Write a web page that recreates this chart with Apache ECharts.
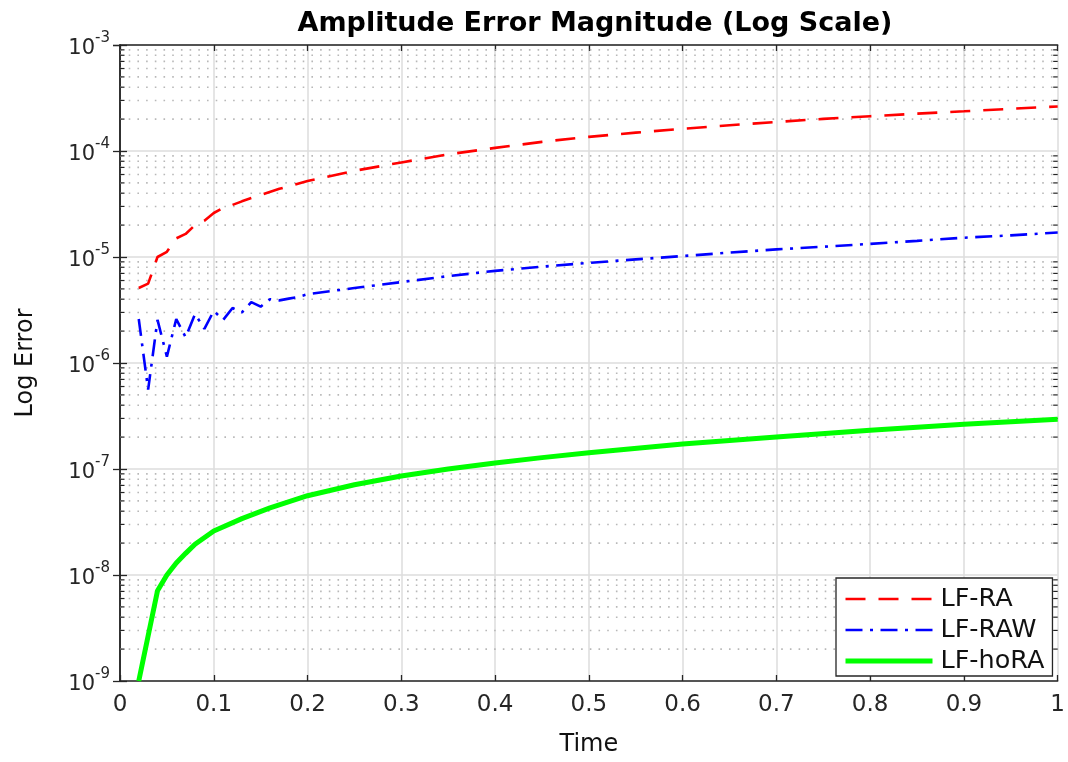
<!DOCTYPE html>
<html>
<head>
<meta charset="utf-8">
<script src="https://cdn.jsdelivr.net/npm/echarts@6/dist/echarts.min.js"></script>
<style>html,body{margin:0;padding:0;background:#fff;}#c{width:1068px;height:762px;}</style>
</head>
<body>
<div id="c"></div>
<script>
// ---- data ----
const seriesNames = ['LF-RA', 'LF-RAW', 'LF-hoRA'];
const xTicks = [0, 0.1, 0.2, 0.3, 0.4, 0.5, 0.6, 0.7, 0.8, 0.9, 1];
const yDecades = [1e-9, 1e-8, 1e-7, 1e-6, 1e-5, 1e-4, 1e-3];

const tRA = [0.02,0.03,0.04,0.05,0.06,0.07,0.08,0.09,0.10,0.11,0.12,0.13,0.14,0.15,0.17,0.20,0.25,0.30,0.35,0.40,0.45,0.50,0.55,0.60,0.65,0.70,0.75,0.80,0.85,0.90,0.95,1.00];
const errRA = [5.1e-6,5.6e-6,1.0e-5,1.12e-5,1.5e-5,1.65e-5,2.0e-5,2.2e-5,2.6e-5,2.9e-5,3.1e-5,3.35e-5,3.6e-5,3.85e-5,4.4e-5,5.2e-5,6.5e-5,7.8e-5,9.3e-5,1.07e-4,1.22e-4,1.36e-4,1.49e-4,1.62e-4,1.75e-4,1.88e-4,2.01e-4,2.13e-4,2.25e-4,2.37e-4,2.5e-4,2.63e-4];

const tRAW = [0.02,0.03,0.04,0.05,0.06,0.07,0.08,0.09,0.10,0.11,0.12,0.13,0.14,0.15,0.16,0.17,0.18,0.19,0.20,0.25,0.30,0.35,0.40,0.45,0.50,0.55,0.60,0.65,0.70,0.75,0.80,0.85,0.90,0.95,1.00];
const errRAW = [2.6e-6,5.6e-7,2.55e-6,1.15e-6,2.6e-6,1.75e-6,2.9e-6,2.1e-6,3.1e-6,2.55e-6,3.3e-6,3.0e-6,3.75e-6,3.4e-6,4.0e-6,3.9e-6,4.05e-6,4.2e-6,4.45e-6,5.1e-6,5.8e-6,6.6e-6,7.4e-6,8.1e-6,8.8e-6,9.5e-6,1.02e-5,1.1e-5,1.18e-5,1.25e-5,1.33e-5,1.42e-5,1.52e-5,1.6e-5,1.7e-5];

const tHoRA = [0.02,0.04,0.05,0.06,0.07,0.08,0.10,0.13,0.16,0.20,0.25,0.30,0.35,0.40,0.45,0.50,0.60,0.70,0.80,0.90,1.00];
const errHoRA = [1.0e-9,7.1e-9,1.0e-8,1.3e-8,1.6e-8,1.95e-8,2.6e-8,3.4e-8,4.3e-8,5.6e-8,7.1e-8,8.6e-8,1.0e-7,1.14e-7,1.28e-7,1.42e-7,1.72e-7,2.0e-7,2.32e-7,2.64e-7,2.95e-7];

// minor log grid positions (2..9 x 10^k)
const minorVals = [];
for (let k = -9; k < -3; k++) { for (let m = 2; m <= 9; m++) minorVals.push(m * Math.pow(10, k)); }

const FONT = 'DejaVu Sans';
const AX = '#262626';
const COLORS = ['#ff0000', '#0000ff', '#00ff00'];
const STYLES = [
  {color: COLORS[0], width: 2.6, type: [20, 13]},
  {color: COLORS[1], width: 2.6, type: [17, 7.5, 3, 7.5]},
  {color: COLORS[2], width: 5, type: 'solid'}
];
const zip = (a, b) => a.map((v, i) => [v, b[i]]);

const chart = echarts.init(document.getElementById('c'), null, {renderer: 'canvas'});
const option = {
  animation: false,
  backgroundColor: '#fff',
  title: {
    text: 'Amplitude Error Magnitude (Log Scale)',
    left: 590, top: 5, textAlign: 'center',
    textStyle: {fontFamily: FONT, fontSize: 27, fontWeight: 'bold', color: '#000'}
  },
  grid: {left: 120, right: 10, top: 45, bottom: 78, containLabel: false},
  legend: {
    orient: 'vertical', left: 836, top: 578,
    padding: [8, 8, 2, 7], itemWidth: 87, itemHeight: 16, itemGap: 5,
    backgroundColor: '#fff', borderColor: AX, borderWidth: 1.3, borderRadius: 0,
    itemStyle: {opacity: 0},
    textStyle: {fontFamily: FONT, fontSize: 25.5, lineHeight: 24, color: '#111', padding: [0, 0, 0, 3]},
    data: seriesNames.map((n, i) => ({name: n, itemStyle: {opacity: 0}, lineStyle: STYLES[i]}))
  },
  xAxis: [{
    type: 'value', min: 0, max: 1, interval: 0.1, position: 'bottom',
    name: 'Time', nameLocation: 'middle', nameGap: 52,
    nameTextStyle: {fontFamily: FONT, fontSize: 24, color: '#111'},
    axisLine: {show: true, lineStyle: {color: AX, width: 1.5}},
    axisTick: {show: true, inside: true, length: 6, lineStyle: {color: AX, width: 1.3}},
    axisLabel: {fontFamily: FONT, fontSize: 23, color: AX, margin: 13},
    splitLine: {show: true, lineStyle: {color: '#dcdcdc', width: 1.5}}
  }, {
    type: 'value', min: 0, max: 1, interval: 0.1, position: 'top',
    axisLine: {show: true, lineStyle: {color: AX, width: 1.5}},
    axisTick: {show: true, inside: true, length: 6, lineStyle: {color: AX, width: 1.3}},
    axisLabel: {show: false}, splitLine: {show: false}
  }],
  yAxis: [{
    type: 'log', logBase: 10, min: 1e-9, max: 1e-3, position: 'left',
    name: 'Log Error', nameLocation: 'middle', nameGap: 82, nameRotate: 90,
    nameTextStyle: {fontFamily: FONT, fontSize: 24, color: '#111'},
    axisLine: {show: true, lineStyle: {color: AX, width: 1.5}},
    axisTick: {show: true, inside: true, length: 7, lineStyle: {color: AX, width: 1.3}},
    axisLabel: {
      margin: 10, color: AX,
      formatter: v => '{b|10}{s|' + Math.round(Math.log10(v)) + '}',
      rich: {
        b: {fontFamily: FONT, fontSize: 21, color: AX, lineHeight: 28, verticalAlign: 'bottom'},
        s: {fontFamily: FONT, fontSize: 15, color: AX, lineHeight: 15, verticalAlign: 'top'}
      }
    },
    splitLine: {show: true, lineStyle: {color: '#dcdcdc', width: 1.5}}
  }, {
    type: 'log', logBase: 10, min: 1e-9, max: 1e-3, position: 'right',
    axisLine: {show: true, lineStyle: {color: AX, width: 1.5}},
    axisTick: {show: true, inside: true, length: 7, lineStyle: {color: AX, width: 1.3}},
    axisLabel: {show: false}, splitLine: {show: false}
  }],
  series: [{
    type: 'custom', name: 'minorGrid', silent: true, z: 1,
    xAxisIndex: 0, yAxisIndex: 0,
    encode: {x: 0, y: 1},
    data: minorVals.map(v => [0, v]),
    renderItem: (params, api) => {
      const v = api.value(1);
      const a = api.coord([0, v]);
      const b = api.coord([1, v]);
      return {type: 'group', children: [
        {type: 'line', shape: {x1: a[0], y1: a[1], x2: b[0], y2: b[1]},
         style: {stroke: '#b8b8b8', lineWidth: 1.6, lineDash: [1.6, 7.1]}},
        {type: 'line', shape: {x1: a[0], y1: a[1], x2: a[0] + 4.5, y2: a[1]},
         style: {stroke: AX, lineWidth: 1.2}},
        {type: 'line', shape: {x1: b[0], y1: b[1], x2: b[0] - 4.5, y2: b[1]},
         style: {stroke: AX, lineWidth: 1.2}}
      ]};
    }
  }, {
    type: 'line', name: seriesNames[0], data: zip(tRA, errRA), showSymbol: false, symbol: 'none',
    clip: true, z: 3, color: COLORS[0], lineStyle: STYLES[0]
  }, {
    type: 'line', name: seriesNames[1], data: zip(tRAW, errRAW), showSymbol: false, symbol: 'none',
    clip: true, z: 3, color: COLORS[1], lineStyle: STYLES[1]
  }, {
    type: 'line', name: seriesNames[2], data: zip(tHoRA, errHoRA), showSymbol: false, symbol: 'none',
    clip: true, z: 3, color: COLORS[2], lineStyle: STYLES[2]
  }]
};
chart.setOption(option);
</script>
</body>
</html>
